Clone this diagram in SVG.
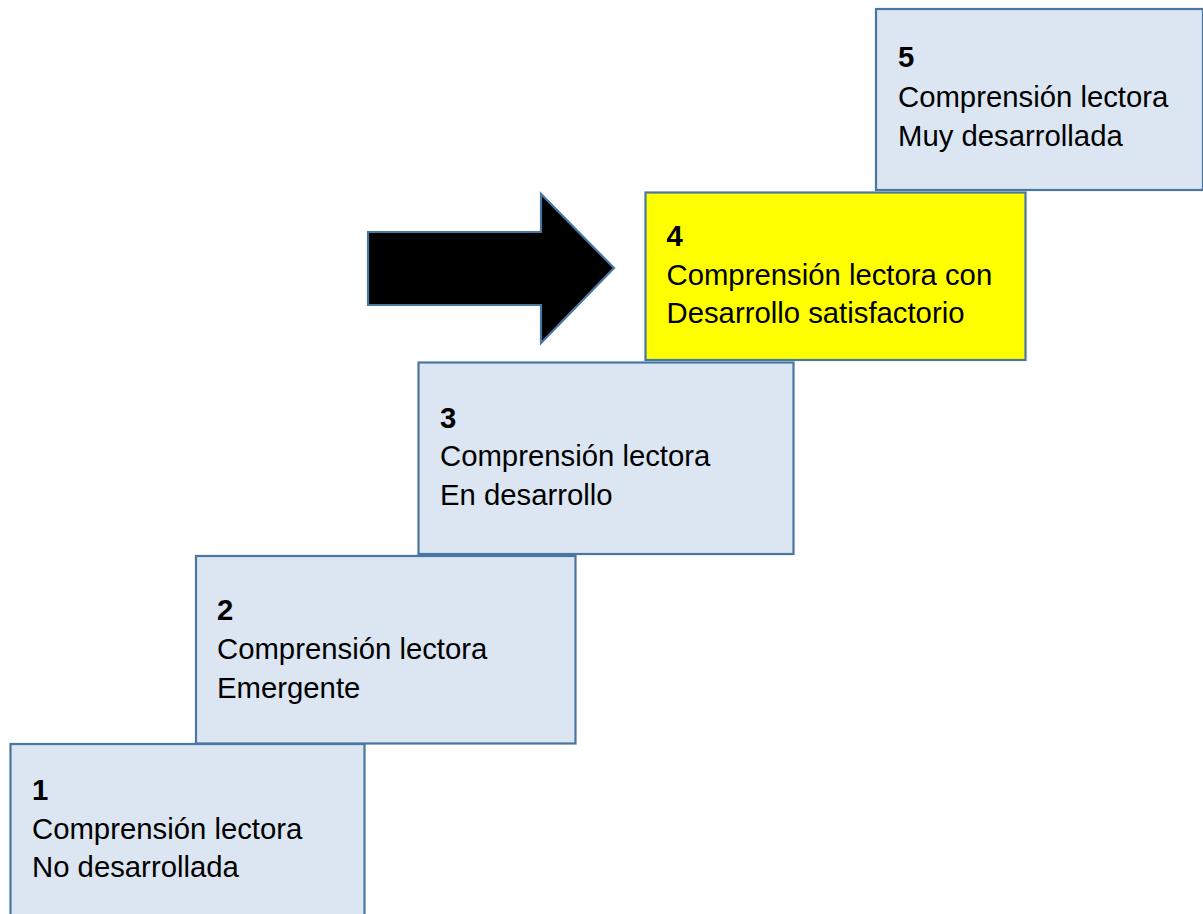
<svg xmlns="http://www.w3.org/2000/svg" width="1203" height="914" viewBox="0 0 1203 914">
<style>
.box{fill:#DCE6F2;stroke:#4A76A2;stroke-width:2.2}
.hl{fill:#FFFF00;stroke:#4A76A2;stroke-width:2.2}
text{font-family:"Liberation Sans",Arial,sans-serif;font-size:29.3px;fill:#000}
.n{font-weight:bold}
</style>
<rect width="1203" height="914" fill="#fff"/>
<g id="connectors">
<path d="M368,232 L541,232 L541,194 L614,268 L541,343 L541,305 L368,305 Z" fill="#000" stroke="#4A76A2" stroke-width="2.2" stroke-linejoin="miter"/>
</g>
<g id="node5">
<rect class="box" x="876" y="9" width="327" height="181"/>
<text class="n" x="898" y="67">5</text>
<text x="898" y="106.5">Comprensión lectora</text>
<text x="898" y="146">Muy desarrollada</text>
</g>
<g id="node2">
<rect class="box" x="196" y="556" width="379.5" height="187.5"/>
<text class="n" x="217" y="620">2</text>
<text x="217" y="659">Comprensión lectora</text>
<text x="217" y="697.5">Emergente</text>
</g>
<g id="node1">
<rect class="box" x="10.5" y="744" width="354" height="180"/>
<text class="n" x="32" y="800">1</text>
<text x="32" y="838.5">Comprensión lectora</text>
<text x="32" y="876.5">No desarrollada</text>
</g>
<g id="node3">
<rect class="box" x="418.5" y="362.5" width="375" height="191.5"/>
<text class="n" x="440" y="427.5">3</text>
<text x="440" y="466">Comprensión lectora</text>
<text x="440" y="505">En desarrollo</text>
</g>
<g id="node4">
<rect class="hl" x="645.5" y="192.5" width="380" height="167.5"/>
<text class="n" x="666.5" y="246">4</text>
<text x="666.5" y="284.5">Comprensión lectora con</text>
<text x="666.5" y="322.5">Desarrollo satisfactorio</text>
</g>
</svg>
